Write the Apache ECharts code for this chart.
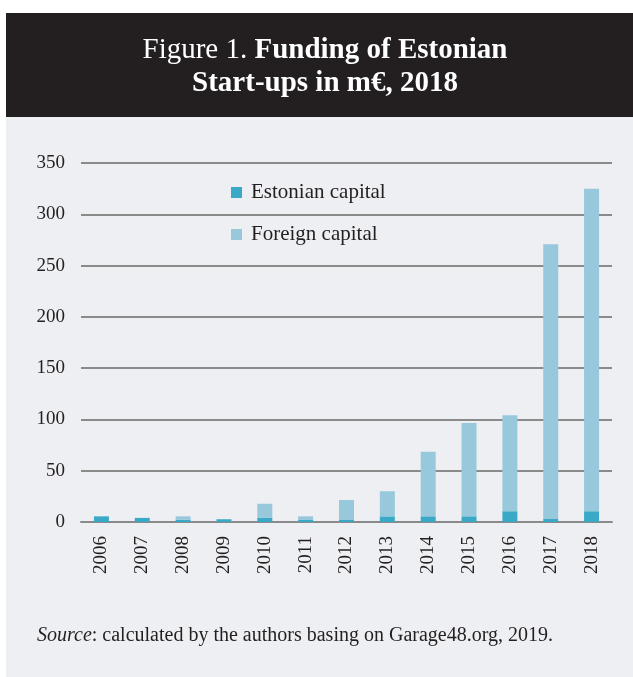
<!DOCTYPE html>
<html><head><meta charset="utf-8">
<script src="https://cdn.jsdelivr.net/npm/echarts@6/dist/echarts.min.js"></script>
<style>html,body{margin:0;padding:0;background:#fff}#c{width:633px;height:677px}</style>
</head><body><div id="c"></div>
<script>
var years = ['2006','2007','2008','2009','2010','2011','2012','2013','2014','2015','2016','2017','2018'];
var estonian = [5.5, 4, 2.3, 2.7, 4, 2, 2, 5.5, 5.5, 5.5, 10.5, 2.9, 10.5];
var foreign = [0, 0, 3.2, 0, 13.8, 3.5, 19.4, 24.5, 63, 91, 93.5, 268, 314.5];
var yTicks = [0, 50, 100, 150, 200, 250, 300, 350];

var serif = '"Liberation Serif", "DejaVu Serif", serif';
var chart = echarts.init(document.getElementById('c'), null, {renderer:'canvas'});
chart.setOption({
  animation: false,
  backgroundColor: '#ffffff',
  graphic: [
    {type:'rect', z:-10, shape:{x:6, y:117, width:627, height:560}, style:{fill:'#eeeff3'}},
    {type:'rect', z:-10, shape:{x:6, y:13, width:627, height:104}, style:{fill:'#231f20'}},
    {type:'text', left:37, top:626, style:{
      text:'{i|Source}: calculated by the authors basing on Garage48.org, 2019.',
      fill:'#231f20', font:'20px ' + serif,
      rich:{i:{fontStyle:'italic', fontSize:20, fontFamily:serif, fill:'#231f20'}}
    }}
  ],
  title: {
    text: '{r|Figure 1. }{b|Funding of Estonian}\n{b|Start-ups in m€, 2018}',
    left: 320, top: 29, textAlign: 'center',
    textStyle: {
      color:'#fff', fontFamily: serif, fontSize: 29, lineHeight: 33,
      rich: {
        r:{color:'#fff', fontFamily:serif, fontSize:29, fontWeight:'normal', lineHeight:33},
        b:{color:'#fff', fontFamily:serif, fontSize:29, fontWeight:'bold', lineHeight:33}
      }
    }
  },
  legend: {
    orient:'vertical', left:231, top:182, padding:0, itemWidth:11, itemHeight:11, itemGap:21,
    icon:'rect', data:['Estonian capital','Foreign capital'],
    textStyle:{fontFamily:serif, fontSize:21, color:'#231f20', padding:[0,0,0,4]}
  },
  grid: {left:81, right:21, top:163, bottom:155, containLabel:false},
  xAxis: {
    type:'category', data: years,
    axisLine:{show:true, lineStyle:{color:'#8a8a8a', width:2}},
    axisTick:{show:false},
    axisLabel:{rotate:90, fontFamily:serif, fontSize:19, color:'#231f20', margin:14}
  },
  yAxis: {
    type:'value', min:yTicks[0], max:yTicks[yTicks.length-1], interval:50,
    axisLine:{show:false}, axisTick:{show:false},
    splitLine:{lineStyle:{color:'#8a8a8a', width:2}},
    axisLabel:{fontFamily:serif, fontSize:19, color:'#231f20', margin:16}
  },
  series: [
    {name:'Estonian capital', type:'bar', stack:'t', data:estonian, barWidth:15,
     itemStyle:{color:'#3aa9c8'}},
    {name:'Foreign capital', type:'bar', stack:'t', data:foreign, barWidth:15,
     itemStyle:{color:'#97c8dc'}}
  ]
});
</script></body></html>
